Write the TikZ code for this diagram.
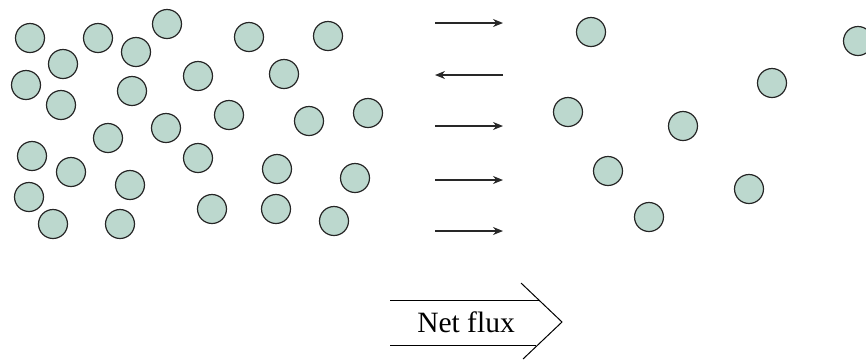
\documentclass[tikz,border=0pt]{standalone}
\usepackage{fontspec}
\setmainfont{Liberation Serif}
\usetikzlibrary{arrows.meta}
\definecolor{mol}{RGB}{188,216,206}
\definecolor{arr}{RGB}{40,40,40}
\tikzset{
  molecule/.style={circle,draw=black!85,fill=mol,line width=1.2pt,minimum size=29pt,inner sep=0pt},
  flux/.style={draw=arr,line width=1.3pt,-{Stealth[length=10pt,width=8pt]}},
  netline/.style={draw=black,line width=1pt}
}
\begin{document}
\begin{tikzpicture}[x=1pt,y=-1pt]
\useasboundingbox (0,0) rectangle (866,360);
% left side molecules
\foreach \n/\px/\py in {
 a1/30/38, a2/98/38, a3/167/24, a4/63/64, a5/136/52, a6/249/37, a7/328/36,
 a8/26/85, a9/61/105, a10/132/91, a11/198/76, a12/284/74, a13/229/115,
 a14/309/121, a15/368/113, a16/166/128, a17/108/138, a18/32/156,
 a19/71/172, a20/130/185, a21/198/158, a22/277/169, a23/355/178,
 a24/29/197, a25/53/224, a26/120/224, a27/212/209, a28/276/209, a29/334/221}
  \node[molecule] (\n) at (\px,\py) {};
% right side molecules
\foreach \n/\px/\py in {
 b1/591/32, b2/858/41, b3/772/83, b4/568/112, b5/683/126,
 b6/608/171, b7/749/189, b8/649/217}
  \node[molecule] (\n) at (\px,\py) {};
% flux arrows
\coordinate (l1) at (435,23);  \coordinate (r1) at (503,23);
\coordinate (l2) at (435,75);  \coordinate (r2) at (503,75);
\coordinate (l3) at (435,126); \coordinate (r3) at (503,126);
\coordinate (l4) at (435,180); \coordinate (r4) at (503,180);
\coordinate (l5) at (435,231); \coordinate (r5) at (503,231);
\draw[flux] (l1) -- (r1);
\draw[flux] (r2) -- (l2);
\draw[flux] (l3) -- (r3);
\draw[flux] (l4) -- (r4);
\draw[flux] (l5) -- (r5);
% net flux arrow
\coordinate (nt0) at (390,300);
\coordinate (nt1) at (539,300);
\coordinate (nb0) at (390,345);
\coordinate (nb1) at (536,345);
\coordinate (ctop) at (521,283);
\coordinate (ctip) at (562,322);
\coordinate (cbot) at (523,359);
\draw[netline] (nt0) -- (nt1);
\draw[netline] (nb0) -- (nb1);
\draw[netline] (ctop) -- (ctip) -- (cbot);
\node[font=\fontsize{29.5}{32}\selectfont,inner sep=0pt] (lbl) at (466,322) {Net flux};
\end{tikzpicture}
\end{document}
